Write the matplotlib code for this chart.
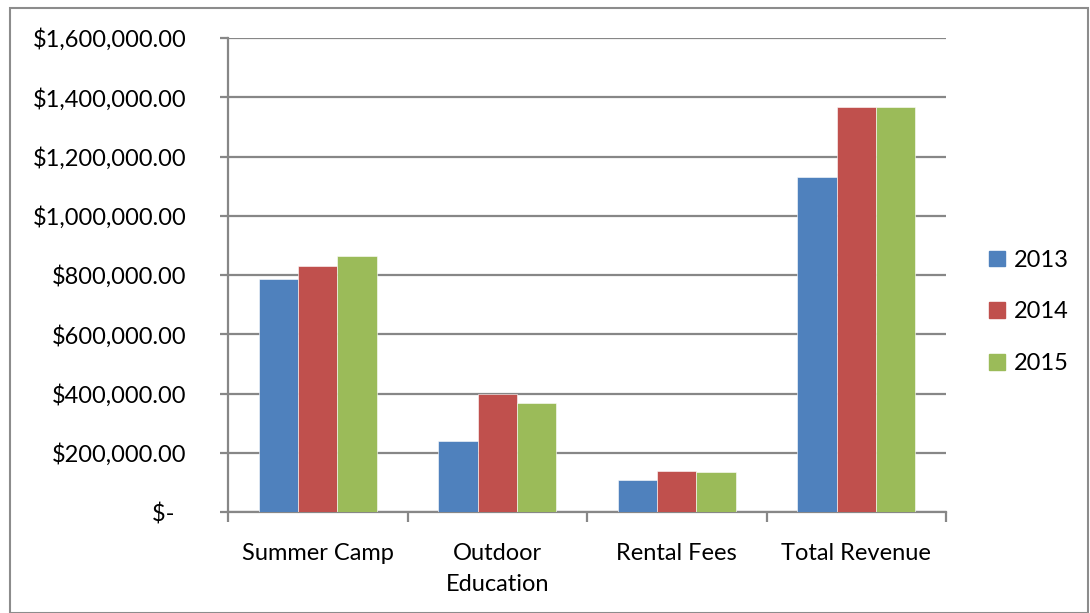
import matplotlib.pyplot as plt
import matplotlib.patches as mpatches
import numpy as np

categories = ["Summer Camp", "Outdoor\nEducation", "Rental Fees", "Total Revenue"]
years = ["2013", "2014", "2015"]
rev_2013 = [785000, 238000, 107000, 1130000]
rev_2014 = [829000, 397000, 140000, 1366000]
rev_2015 = [865000, 368000, 134000, 1366000]
colors = ["#4F81BD", "#C0504D", "#9BBB59"]
y_ticks = [0, 200000, 400000, 600000, 800000, 1000000, 1200000, 1400000, 1600000]

plt.rcParams['font.family'] = ['Lato', 'DejaVu Sans']
grid_col = "#878787"
fs = 17

W, H = 1090, 613
fig = plt.figure(figsize=(W / 100, H / 100), dpi=100)
ax = fig.add_axes([228 / W, (H - 512) / H, 718 / W, 474 / H])

x = np.arange(len(categories))
bw = 0.22
for i, (vals, lab) in enumerate(zip([rev_2013, rev_2014, rev_2015], years)):
    ax.bar(x + (i - 1) * bw, vals, width=bw, color=colors[i], label=lab,
           edgecolor="white", linewidth=0.4, zorder=3)

ax.set_ylim(0, 1600000)
ax.set_xlim(-0.5, len(categories) - 0.5)
ax.set_yticks(y_ticks)
ax.set_yticklabels(["$-  "] + [f"${v:,.2f}" for v in y_ticks[1:]], fontsize=fs)
ax.yaxis.grid(True, color=grid_col, linewidth=1.6, zorder=0)
ax.tick_params(axis='y', length=6, width=1.6, color=grid_col, pad=24)

ax.set_xticks(x)
ax.set_xticklabels(categories, fontsize=fs, linespacing=1.6)
ax.set_xticks(np.arange(-0.5, len(categories)), minor=True)
ax.tick_params(axis='x', which='major', length=0, pad=22)
ax.tick_params(axis='x', which='minor', length=7, width=1.6, color=grid_col)

for s in ['top', 'right']:
    ax.spines[s].set_visible(False)
for s in ['left', 'bottom']:
    ax.spines[s].set_color(grid_col)
    ax.spines[s].set_linewidth(1.6)

handles = [mpatches.Patch(color=c, label=y) for c, y in zip(colors, years)]
fig.legend(handles=handles, loc='center left', bbox_to_anchor=(968 / W, 1 - 312 / H),
           frameon=False, fontsize=fs, handlelength=0.65, handleheight=0.65,
           handletextpad=0.4, labelspacing=1.3)

fig.patches.append(mpatches.Rectangle((10 / W, 0), (1088 - 10) / W, 1 - 8 / H,
                                      transform=fig.transFigure, fill=False,
                                      edgecolor="#8c8c8c", linewidth=1.5))

fig.savefig("out.png", dpi=100)
